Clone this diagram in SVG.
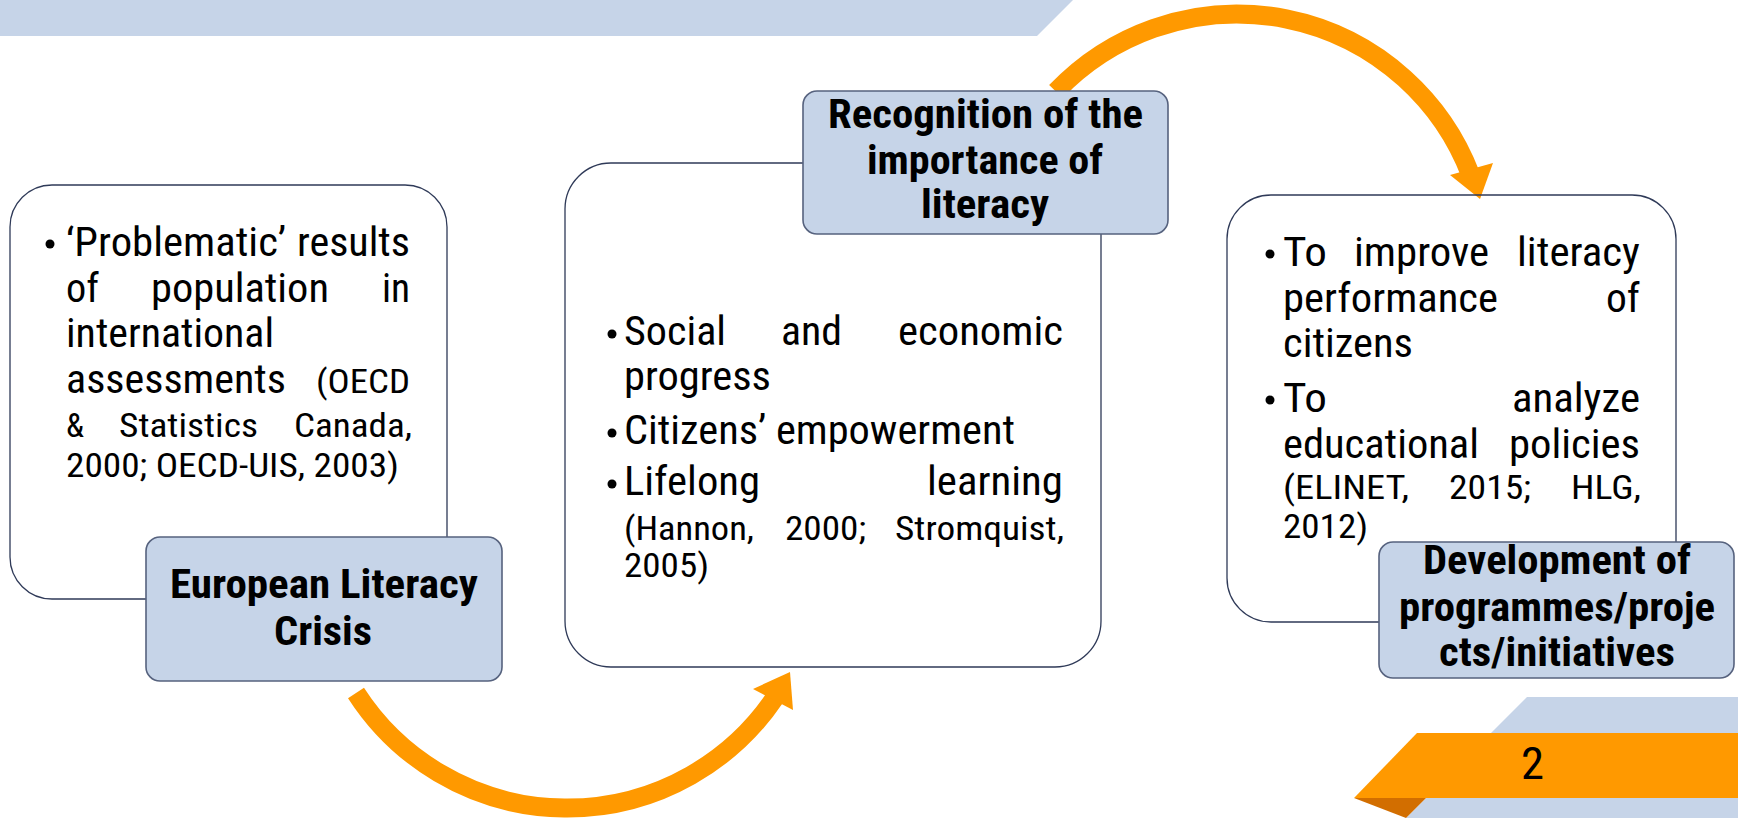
<svg xmlns="http://www.w3.org/2000/svg" width="1738" height="818" viewBox="0 0 1738 818">
  <style>
    .band { fill: #C6D4E8; }
    .flow { fill: none; stroke: #FF9900; stroke-width: 19; stroke-linecap: butt; }
    .head { fill: #FF9900; }
    .panel { fill: none; stroke: #2F3A58; stroke-width: 1.3; }
    .label { fill: #C6D4E8; stroke: #56627E; stroke-width: 1.6; }
    .bullet { fill: #000; }
    text { font-family: "Roboto Condensed", Roboto, "Liberation Sans", sans-serif; fill: #000; }
    .t { font-size: 40px; }
    .c { font-size: 34px; }
    .b { font-size: 40px; font-weight: 700; }
    .n { font-size: 44px; }
  </style>

  <!-- page decoration -->
  <polygon class="band" points="0,0 1073,0 1037,36 0,36"/>
  <polygon class="band" points="1527,697 1738,697 1738,818 1406,818"/>
  <polygon fill="#FF9900" points="1417,733 1738,733 1738,798 1354,798"/>
  <polygon fill="#D26E00" points="1354,798 1426,798 1406,818"/>
  <text class="n" x="1521" y="779" textLength="23" lengthAdjust="spacingAndGlyphs">2</text>

  <!-- curved arrows between the stages -->
  <g id="connectors">
    <path class="flow" d="M356,693 A251,251 0 0 0 775.1,697.4"/>
    <polygon class="head" points="753,689 790,672 793,710"/>
    <path class="flow" d="M1056,91.6 A250,250 0 0 1 1470.4,174.4"/>
    <polygon class="head" points="1450,175 1480,199 1493,163"/>
  </g>

  <!-- stage 1 -->
  <g id="crisis">
    <rect class="panel" x="10" y="185" width="437" height="414" rx="42"/>
    <circle class="bullet" cx="50" cy="244" r="4.5"/>
    <text class="t" x="66" y="256" textLength="220" lengthAdjust="spacingAndGlyphs">‘Problematic’</text>
    <text class="t" x="297" y="256" textLength="113" lengthAdjust="spacingAndGlyphs">results</text>
    <text class="t" x="66" y="302" textLength="33" lengthAdjust="spacingAndGlyphs">of</text>
    <text class="t" x="151" y="302" textLength="178" lengthAdjust="spacingAndGlyphs">population</text>
    <text class="t" x="382" y="302" textLength="28" lengthAdjust="spacingAndGlyphs">in</text>
    <text class="t" x="66" y="347" textLength="208" lengthAdjust="spacingAndGlyphs">international</text>
    <text class="t" x="66" y="393" textLength="220" lengthAdjust="spacingAndGlyphs">assessments</text>
    <text class="c" x="316" y="393" textLength="94" lengthAdjust="spacingAndGlyphs">(OECD</text>
    <text class="c" x="66" y="437" textLength="18" lengthAdjust="spacingAndGlyphs">&amp;</text>
    <text class="c" x="119" y="437" textLength="139" lengthAdjust="spacingAndGlyphs">Statistics</text>
    <text class="c" x="294" y="437" textLength="118" lengthAdjust="spacingAndGlyphs">Canada,</text>
    <text class="c" x="66" y="477" textLength="333" lengthAdjust="spacingAndGlyphs">2000; OECD-UIS, 2003)</text>
    <rect class="label" x="146" y="537" width="356" height="144" rx="14"/>
    <text class="b" x="170" y="598" textLength="308" lengthAdjust="spacingAndGlyphs">European Literacy</text>
    <text class="b" x="274" y="645" textLength="98" lengthAdjust="spacingAndGlyphs">Crisis</text>
  </g>

  <!-- stage 2 -->
  <g id="recognition">
    <rect class="panel" x="565" y="163" width="536" height="504" rx="46"/>
    <circle class="bullet" cx="612" cy="334" r="4.5"/>
    <text class="t" x="624" y="345" textLength="102" lengthAdjust="spacingAndGlyphs">Social</text>
    <text class="t" x="781" y="345" textLength="61" lengthAdjust="spacingAndGlyphs">and</text>
    <text class="t" x="898" y="345" textLength="165" lengthAdjust="spacingAndGlyphs">economic</text>
    <text class="t" x="624" y="390" textLength="147" lengthAdjust="spacingAndGlyphs">progress</text>
    <circle class="bullet" cx="612" cy="433" r="4.5"/>
    <text class="t" x="624" y="444" textLength="391" lengthAdjust="spacingAndGlyphs">Citizens’ empowerment</text>
    <circle class="bullet" cx="612" cy="484" r="4.5"/>
    <text class="t" x="624" y="495" textLength="136" lengthAdjust="spacingAndGlyphs">Lifelong</text>
    <text class="t" x="927" y="495" textLength="136" lengthAdjust="spacingAndGlyphs">learning</text>
    <text class="c" x="624" y="540" textLength="130" lengthAdjust="spacingAndGlyphs">(Hannon,</text>
    <text class="c" x="785" y="540" textLength="81" lengthAdjust="spacingAndGlyphs">2000;</text>
    <text class="c" x="895" y="540" textLength="169" lengthAdjust="spacingAndGlyphs">Stromquist,</text>
    <text class="c" x="624" y="577" textLength="85" lengthAdjust="spacingAndGlyphs">2005)</text>
    <rect class="label" x="803" y="91" width="365" height="143" rx="14"/>
    <text class="b" x="828" y="128" textLength="315" lengthAdjust="spacingAndGlyphs">Recognition of the</text>
    <text class="b" x="867" y="174" textLength="236" lengthAdjust="spacingAndGlyphs">importance of</text>
    <text class="b" x="921" y="218" textLength="128" lengthAdjust="spacingAndGlyphs">literacy</text>
  </g>

  <!-- stage 3 -->
  <g id="development">
    <rect class="panel" x="1227" y="195" width="449" height="427" rx="44"/>
    <circle class="bullet" cx="1270" cy="254" r="4.5"/>
    <text class="t" x="1283" y="266" textLength="44" lengthAdjust="spacingAndGlyphs">To</text>
    <text class="t" x="1354" y="266" textLength="135" lengthAdjust="spacingAndGlyphs">improve</text>
    <text class="t" x="1517" y="266" textLength="123" lengthAdjust="spacingAndGlyphs">literacy</text>
    <text class="t" x="1283" y="312" textLength="215" lengthAdjust="spacingAndGlyphs">performance</text>
    <text class="t" x="1606" y="312" textLength="34" lengthAdjust="spacingAndGlyphs">of</text>
    <text class="t" x="1283" y="357" textLength="130" lengthAdjust="spacingAndGlyphs">citizens</text>
    <circle class="bullet" cx="1270" cy="400" r="4.5"/>
    <text class="t" x="1283" y="412" textLength="44" lengthAdjust="spacingAndGlyphs">To</text>
    <text class="t" x="1512" y="412" textLength="128" lengthAdjust="spacingAndGlyphs">analyze</text>
    <text class="t" x="1283" y="458" textLength="196" lengthAdjust="spacingAndGlyphs">educational</text>
    <text class="t" x="1509" y="458" textLength="131" lengthAdjust="spacingAndGlyphs">policies</text>
    <text class="c" x="1283" y="499" textLength="126" lengthAdjust="spacingAndGlyphs">(ELINET,</text>
    <text class="c" x="1449" y="499" textLength="82" lengthAdjust="spacingAndGlyphs">2015;</text>
    <text class="c" x="1571" y="499" textLength="70" lengthAdjust="spacingAndGlyphs">HLG,</text>
    <text class="c" x="1283" y="538" textLength="85" lengthAdjust="spacingAndGlyphs">2012)</text>
    <rect class="label" x="1379" y="542" width="355" height="136" rx="14"/>
    <text class="b" x="1423" y="574" textLength="268" lengthAdjust="spacingAndGlyphs">Development of</text>
    <text class="b" x="1399" y="621" textLength="316" lengthAdjust="spacingAndGlyphs">programmes/proje</text>
    <text class="b" x="1439" y="666" textLength="236" lengthAdjust="spacingAndGlyphs">cts/initiatives</text>
  </g>
</svg>
